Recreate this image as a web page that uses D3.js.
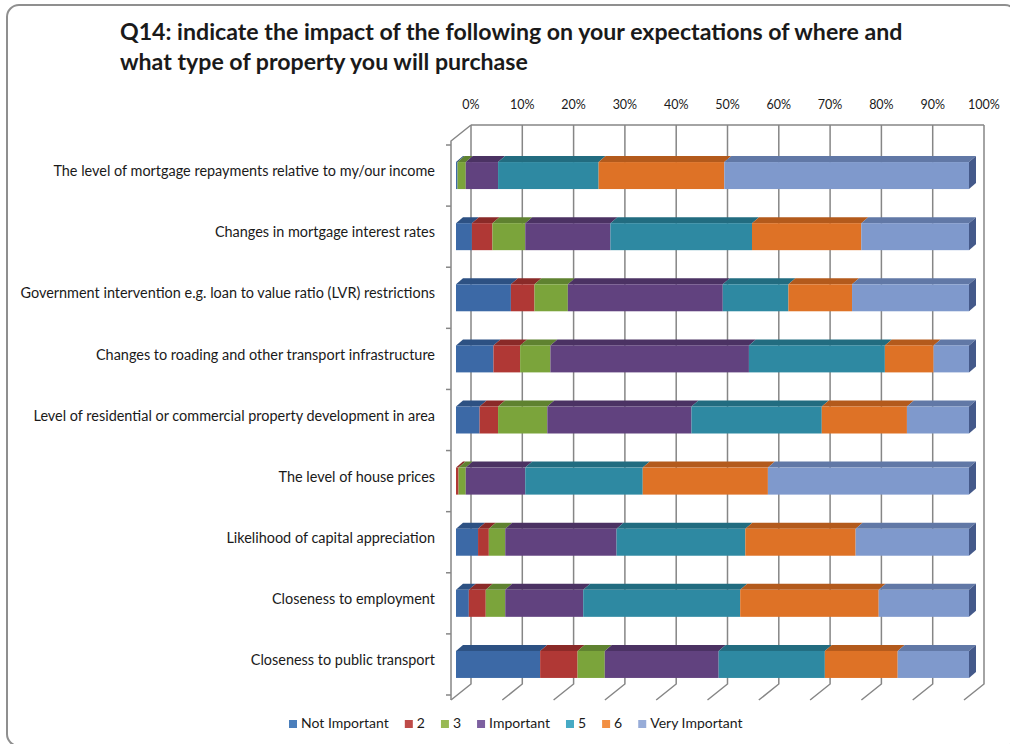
<!DOCTYPE html>
<meta charset="utf-8">
<script src="https://d3js.org/d3.v7.min.js"></script>
<style>
  body { margin: 0; background: #fff; }
  text { font-family: Lato, "Open Sans", sans-serif; fill: #1a1a1a; }
</style>
<div id="chart"></div>
<script>
// categories, top to bottom
var categories = [
  "The level of mortgage repayments relative to my/our income",
  "Changes in mortgage interest rates",
  "Government intervention e.g. loan to value ratio (LVR) restrictions",
  "Changes to roading and other transport infrastructure",
  "Level of residential or commercial property development in area",
  "The level of house prices",
  "Likelihood of capital appreciation",
  "Closeness to employment",
  "Closeness to public transport"
];
var seriesNames = ["Not Important", "2", "3", "Important", "5", "6", "Very Important"];

// percent of respondents, one array per rating
var notImportant  = [0.3, 3.1, 10.7, 7.3, 4.6, 0, 4.3, 2.5, 16.4];
var two           = [0, 4.0, 4.6, 5.2, 3.6, 0.5, 2.1, 3.3, 7.3];
var three         = [1.6, 6.4, 6.5, 5.9, 9.6, 1.4, 3.2, 3.8, 5.3];
var important     = [6.3, 16.6, 30.2, 38.7, 28.1, 11.6, 21.7, 15.2, 22.2];
var five          = [19.6, 27.6, 12.8, 26.5, 25.4, 22.9, 25.1, 30.6, 20.7];
var six           = [24.5, 21.3, 12.4, 9.5, 16.6, 24.4, 21.5, 27.0, 14.2];
var veryImportant = [47.7, 21.0, 22.8, 6.9, 12.1, 39.2, 22.1, 17.6, 13.9];

var xTicks = [0, 10, 20, 30, 40, 50, 60, 70, 80, 90, 100];

var titleLines = [
  "Q14: indicate the impact of the following on your expectations of where and",
  "what type of property you will purchase"
];

// colours: front face, top face, legend swatch
var frontColors  = ["#3c69a6", "#b03835", "#7ba43b", "#61427f", "#2e89a2", "#de7226", "#7f99cc"];
var topColors    = ["#2d5183", "#8a2a28", "#5f8230", "#4b3263", "#226c80", "#b35a1c", "#6178a6"];
var legendColors = ["#4a7ebb", "#be4b48", "#98b954", "#7d60a0", "#46aac5", "#f28f43", "#97acd8"];

var allSeries = [notImportant, two, three, important, five, six, veryImportant];
var table = categories.map(function(c, i) {
  var row = { category: c };
  seriesNames.forEach(function(s, j) { row[s] = allSeries[j][i]; });
  return row;
});

var W = 1010, H = 744;
var svg = d3.select("#chart").append("svg")
  .attr("width", W).attr("height", H);

// outer rounded border
svg.append("rect")
  .attr("x", 7).attr("y", 5)
  .attr("width", 1010).attr("height", 741)
  .attr("rx", 12)
  .attr("fill", "#fff")
  .attr("stroke", "#8f8f8f")
  .attr("stroke-width", 2);

// title
var title = svg.append("g");
title.selectAll("text").data(titleLines).enter().append("text")
  .attr("x", 120)
  .attr("y", function(d, i) { return 40 + i * 30; })
  .style("font-weight", "bold")
  .style("font-size", "20px")
  .text(function(d) { return d; });
// fit the first line to the reference width
var tw = title.select("text").node().getComputedTextLength();
title.selectAll("text").style("font-size", (20 * 783 / tw) + "px");

// 3D frame geometry
var wallTop = 125, wallBottom = 684;
var floorDx = -20, floorDy = 16;
var x = d3.scaleLinear().domain([0, 100]).range([471, 984]); // back wall
var y = d3.scaleBand().domain(categories).range([145, 695]);

var gridColor = "#868686";
var frame = svg.append("g")
  .attr("stroke", gridColor)
  .attr("stroke-width", 1.5)
  .attr("fill", "none");

// back wall gridlines + floor lines
frame.selectAll(".grid").data(xTicks).enter().append("path")
  .attr("d", function(d) {
    return "M" + x(d) + "," + wallTop + "V" + wallBottom +
      "l" + floorDx + "," + floorDy;
  });
// top edge of back wall
frame.append("path").attr("d", "M" + x(0) + "," + wallTop + "H" + x(100));
// left side wall
frame.append("path").attr("d",
  "M" + x(0) + "," + wallTop + "l" + floorDx + "," + floorDy +
  "V" + (wallBottom + floorDy));
// side wall ticks
frame.selectAll(".ytick").data(d3.range(categories.length + 1)).enter().append("path")
  .attr("d", function(i) {
    var yy = 145 + i * y.step();
    return "M" + (x(0) + floorDx - 5) + "," + yy + "h5";
  });

// x tick labels
svg.selectAll(".xlab").data(xTicks).enter().append("text")
  .attr("x", function(d) { return x(d); })
  .attr("y", 106)
  .attr("text-anchor", "middle")
  .attr("dominant-baseline", "middle")
  .style("font-size", "12.5px")
  .text(function(d) { return d + "%"; });

// category labels
var labels = svg.append("g");
labels.selectAll("text").data(categories).enter().append("text")
  .attr("x", 435)
  .attr("y", function(d) { return y(d) + y.bandwidth() / 2 - 3; })
  .attr("text-anchor", "end")
  .attr("dominant-baseline", "middle")
  .style("font-size", "13px")
  .text(function(d) { return d; });
var lw = d3.max(labels.selectAll("text").nodes(), function(n) { return n.getComputedTextLength(); });
labels.selectAll("text").style("font-size", (13 * 415 / lw) + "px");

// bars
var stack = d3.stack().keys(seriesNames)(table);
var barH = 27, frontDx = -15, depthDx = 7, depthDy = -6;
function fx(v) { return x(v) + frontDx; }

var layers = svg.selectAll(".layer").data(stack).enter().append("g");
layers.each(function(layer, j) {
  var g = d3.select(this);
  layer.forEach(function(d, i) {
    var cat = categories[i];
    var yTop = y(cat) + y.bandwidth() / 2 - barH / 2;
    var x0 = fx(d[0]), x1 = fx(d[1]);
    if (x1 - x0 <= 0) return;
    // top face
    g.append("path")
      .attr("d", "M" + x0 + "," + yTop + "l" + depthDx + "," + depthDy +
        "H" + (x1 + depthDx) + "l" + (-depthDx) + "," + (-depthDy) + "Z")
      .attr("fill", topColors[j]);
    // front face
    g.append("rect")
      .attr("x", x0).attr("y", yTop)
      .attr("width", x1 - x0).attr("height", barH)
      .attr("fill", frontColors[j]);
  });
});
// right end caps
svg.selectAll(".cap").data(categories).enter().append("path")
  .attr("d", function(c) {
    var yTop = y(c) + y.bandwidth() / 2 - barH / 2;
    return "M" + fx(100) + "," + yTop + "l" + depthDx + "," + depthDy +
      "v" + barH + "l" + (-depthDx) + "," + (-depthDy) + "Z";
  })
  .attr("fill", "#44598a");

// legend
var legend = svg.append("g").attr("transform", "translate(289,724)");
var lx = 0;
seriesNames.forEach(function(s, j) {
  legend.append("rect")
    .attr("x", lx).attr("y", -4)
    .attr("width", 8).attr("height", 8)
    .attr("fill", legendColors[j]);
  var t = legend.append("text")
    .attr("x", lx + 12).attr("y", 0)
    .attr("dominant-baseline", "middle")
    .style("font-size", "14px")
    .text(s);
  lx += 12 + t.node().getComputedTextLength() + 16;
});
</script>
